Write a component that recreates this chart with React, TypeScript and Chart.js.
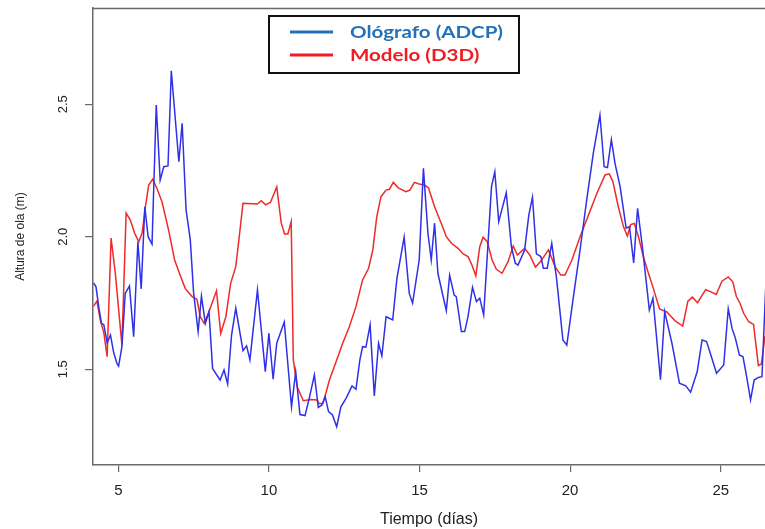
import React, { useEffect, useRef } from 'react';
import { Chart, registerables } from 'chart.js';

Chart.register(...registerables);

const xTickValues = [5, 10, 15, 20, 25];
const yTickValues = [1.5, 2.0, 2.5];
const seriesNames = ['Ológrafo (ADCP)', 'Modelo (D3D)'];
const xTitle = 'Tiempo (días)';
const yTitle = 'Altura de ola (m)';

const blueDays = [
  4.18, 4.26, 4.35, 4.44, 4.52, 4.63, 4.74, 4.85, 4.96, 5.01,
  5.12, 5.23, 5.37, 5.51, 5.65, 5.76, 5.88, 5.99, 6.12, 6.26,
  6.39, 6.51, 6.65, 6.76, 7.01, 7.12, 7.25, 7.39, 7.50, 7.65,
  7.76, 7.89, 8.01, 8.13, 8.38, 8.51, 8.63, 8.76, 8.90, 9.14,
  9.26, 9.37, 9.62, 9.88, 10.00, 10.14, 10.26, 10.51, 10.75, 10.89,
  11.03, 11.20, 11.34, 11.51, 11.64, 11.76, 11.87, 11.98, 12.11, 12.25,
  12.39, 12.56, 12.76, 12.89, 13.02, 13.11, 13.22, 13.36, 13.50, 13.64,
  13.75, 13.89, 14.11, 14.25, 14.49, 14.66, 14.77, 14.99, 15.13, 15.28,
  15.39, 15.50, 15.61, 15.89, 16.00, 16.15, 16.22, 16.39, 16.50, 16.61,
  16.76, 16.89, 17.00, 17.13, 17.39, 17.50, 17.63, 17.88, 18.05, 18.18,
  18.27, 18.49, 18.63, 18.75, 18.88, 19.03, 19.11, 19.24, 19.39, 19.55,
  19.76, 19.89, 20.11, 20.33, 20.55, 20.77, 20.99, 21.13, 21.24, 21.37,
  21.49, 21.66, 21.86, 21.97, 22.11, 22.24, 22.40, 22.52, 22.63, 22.75,
  23.00, 23.14, 23.38, 23.63, 23.84, 24.00, 24.22, 24.38, 24.53, 24.69,
  24.86, 25.10, 25.25, 25.38, 25.48, 25.62, 25.74, 25.86, 25.99, 26.11,
  26.25, 26.37, 26.49,
];
const blueHeights = [
  1.826, 1.811, 1.736, 1.674, 1.667, 1.599, 1.629, 1.561, 1.520, 1.512,
  1.585, 1.786, 1.814, 1.623, 1.981, 1.803, 2.113, 2.000, 1.972, 2.497,
  2.214, 2.264, 2.267, 2.626, 2.283, 2.428, 2.101, 1.988, 1.788, 1.642,
  1.776, 1.673, 1.717, 1.503, 1.459, 1.497, 1.444, 1.629, 1.730, 1.570,
  1.588, 1.535, 1.799, 1.491, 1.635, 1.462, 1.598, 1.678, 1.358, 1.491,
  1.329, 1.325, 1.391, 1.478, 1.356, 1.365, 1.396, 1.340, 1.327, 1.283,
  1.358, 1.390, 1.437, 1.424, 1.535, 1.585, 1.583, 1.667, 1.399, 1.598,
  1.550, 1.698, 1.686, 1.843, 1.998, 1.786, 1.749, 1.912, 2.258, 2.013,
  1.912, 2.051, 1.862, 1.721, 1.855, 1.780, 1.774, 1.642, 1.642, 1.698,
  1.809, 1.755, 1.768, 1.705, 2.189, 2.245, 2.057, 2.166, 1.962, 1.900,
  1.893, 1.950, 2.082, 2.149, 1.935, 1.925, 1.881, 1.881, 1.975, 1.843,
  1.610, 1.591, 1.774, 1.950, 2.138, 2.315, 2.459, 2.264, 2.261, 2.366,
  2.277, 2.189, 2.032, 2.038, 1.901, 2.107, 1.961, 1.837, 1.723, 1.768,
  1.460, 1.717, 1.598, 1.447, 1.437, 1.413, 1.491, 1.610, 1.604, 1.547,
  1.485, 1.516, 1.728, 1.652, 1.620, 1.554, 1.547, 1.472, 1.384, 1.459,
  1.469, 1.472, 1.800,
];

const redDays = [
  4.18, 4.29, 4.40, 4.52, 4.63, 4.76, 4.90, 5.12, 5.26, 5.40,
  5.54, 5.68, 5.79, 5.90, 6.01, 6.14, 6.28, 6.45, 6.67, 6.87,
  7.03, 7.22, 7.45, 7.61, 7.72, 7.85, 8.01, 8.26, 8.40, 8.57,
  8.73, 8.90, 9.01, 9.14, 9.61, 9.75, 9.89, 10.05, 10.26, 10.41,
  10.52, 10.63, 10.74, 10.81, 10.94, 11.14, 11.39, 11.60, 11.66, 11.79,
  11.89, 12.01, 12.23, 12.45, 12.67, 12.89, 13.11, 13.31, 13.45, 13.58,
  13.72, 13.89, 14.00, 14.13, 14.31, 14.55, 14.68, 14.83, 14.99, 15.16,
  15.30, 15.50, 15.72, 15.89, 16.06, 16.28, 16.45, 16.61, 16.74, 16.87,
  17.00, 17.11, 17.25, 17.41, 17.55, 17.74, 17.94, 18.11, 18.25, 18.49,
  18.66, 18.85, 19.03, 19.28, 19.50, 19.69, 19.83, 20.06, 20.33, 20.61,
  20.89, 21.16, 21.30, 21.42, 21.60, 21.77, 21.90, 22.01, 22.13, 22.27,
  22.43, 22.60, 22.76, 22.97, 23.21, 23.49, 23.74, 23.91, 24.06, 24.23,
  24.50, 24.68, 24.85, 25.04, 25.25, 25.40, 25.52, 25.64, 25.76, 25.93,
  26.09, 26.25, 26.35, 26.47, 26.54,
];
const redHeights = [
  1.738, 1.757, 1.686, 1.637, 1.547, 1.995, 1.863, 1.591, 2.089, 2.063,
  2.014, 1.981, 2.014, 2.113, 2.195, 2.217, 2.183, 2.132, 2.025, 1.912,
  1.862, 1.805, 1.774, 1.764, 1.698, 1.673, 1.717, 1.796, 1.635, 1.698,
  1.824, 1.887, 1.995, 2.126, 2.123, 2.136, 2.120, 2.129, 2.188, 2.051,
  2.010, 2.010, 2.057, 1.535, 1.434, 1.381, 1.386, 1.384, 1.371, 1.371,
  1.409, 1.459, 1.528, 1.598, 1.660, 1.736, 1.837, 1.881, 1.950, 2.075,
  2.151, 2.176, 2.179, 2.205, 2.183, 2.170, 2.176, 2.205, 2.199, 2.195,
  2.184, 2.113, 2.051, 2.000, 1.975, 1.956, 1.935, 1.925, 1.893, 1.852,
  1.962, 1.998, 1.981, 1.912, 1.877, 1.862, 1.906, 1.965, 1.931, 1.956,
  1.931, 1.885, 1.908, 1.950, 1.887, 1.855, 1.855, 1.912, 2.000, 2.082,
  2.164, 2.233, 2.237, 2.208, 2.113, 2.038, 2.003, 2.046, 2.050, 2.000,
  1.925, 1.862, 1.806, 1.727, 1.716, 1.682, 1.663, 1.757, 1.772, 1.751,
  1.800, 1.792, 1.782, 1.832, 1.848, 1.830, 1.774, 1.749, 1.711, 1.679,
  1.669, 1.514, 1.520, 1.625, 1.690,
];

const FRAME = '#6a6a6a';
const TEXT = '#222222';
const BLUE_LINE = 'rgb(48, 48, 232)';
const RED_LINE = 'rgb(238, 42, 42)';
const LEGEND_BLUE = '#2471b8';
const LEGEND_RED = '#ee1c24';
const AXIS_FONT = '"Liberation Sans", Arial, sans-serif';

const overlayPlugin = {
  id: 'overlay',
  afterDraw(chart: any) {
    const { ctx, chartArea: a, scales } = chart;
    ctx.save();
    // top frame line
    ctx.strokeStyle = FRAME;
    ctx.lineWidth = 1.5;
    ctx.beginPath();
    ctx.moveTo(a.left, a.top + 0.5);
    ctx.lineTo(a.right, a.top + 0.5);
    ctx.stroke();

    // rotated y tick labels
    ctx.fillStyle = TEXT;
    ctx.font = `13px ${AXIS_FONT}`;
    ctx.textAlign = 'center';
    ctx.textBaseline = 'middle';
    for (const t of scales.y.ticks) {
      const py = scales.y.getPixelForValue(t.value);
      ctx.save();
      ctx.translate(63, py);
      ctx.rotate(-Math.PI / 2);
      ctx.fillText(Number(t.value).toFixed(1), 0, 0);
      ctx.restore();
    }

    // legend box
    ctx.strokeStyle = '#111';
    ctx.lineWidth = 2;
    ctx.strokeRect(269, 16, 250, 57);
    ctx.lineWidth = 3;
    ctx.strokeStyle = LEGEND_BLUE;
    ctx.beginPath();
    ctx.moveTo(290, 32);
    ctx.lineTo(333, 32);
    ctx.stroke();
    ctx.strokeStyle = LEGEND_RED;
    ctx.beginPath();
    ctx.moveTo(290, 55);
    ctx.lineTo(333, 55);
    ctx.stroke();

    ctx.font = `bold 17px Lato, "Open Sans", sans-serif`;
    ctx.textAlign = 'left';
    ctx.textBaseline = 'middle';
    const w = ctx.measureText(seriesNames[0]).width;
    const sx = 153 / w;
    const rows = [
      { text: seriesNames[0], color: LEGEND_BLUE, y: 33 },
      { text: seriesNames[1], color: LEGEND_RED, y: 56 },
    ];
    for (const r of rows) {
      ctx.save();
      ctx.translate(350, r.y);
      ctx.scale(sx, 1);
      ctx.fillStyle = r.color;
      ctx.fillText(r.text, 0, 0);
      ctx.restore();
    }
    ctx.restore();
  },
};

export default function App() {
  const canvasRef = useRef<HTMLCanvasElement | null>(null);

  useEffect(() => {
    const canvas = canvasRef.current;
    if (!canvas) return;
    const chart = new Chart(canvas, {
      type: 'line',
      data: {
        datasets: [
          {
            label: seriesNames[0],
            data: blueDays.map((d, i) => ({ x: d, y: blueHeights[i] })),
            borderColor: BLUE_LINE,
            borderWidth: 1.5,
            pointRadius: 0,
            tension: 0,
            fill: false,
          },
          {
            label: seriesNames[1],
            data: redDays.map((d, i) => ({ x: d, y: redHeights[i] })),
            borderColor: RED_LINE,
            borderWidth: 1.5,
            pointRadius: 0,
            tension: 0,
            fill: false,
          },
        ],
      },
      options: {
        responsive: true,
        maintainAspectRatio: false,
        animation: false,
        devicePixelRatio: 1,
        layout: { padding: { top: 8, left: 0, right: 0, bottom: 0 } },
        plugins: {
          legend: { display: false },
          tooltip: { enabled: false },
        },
        scales: {
          x: {
            type: 'linear',
            min: 4.16,
            max: 26.47,
            afterBuildTicks: (s: any) => {
              s.ticks = xTickValues.map((v) => ({ value: v }));
            },
            afterFit: (s: any) => {
              s.height = 64;
            },
            grid: {
              drawOnChartArea: false,
              drawTicks: true,
              tickLength: 7,
              color: FRAME,
              lineWidth: 1.2,
            },
            border: { display: true, color: FRAME, width: 1.5 },
            ticks: {
              padding: 10,
              color: TEXT,
              maxRotation: 0,
              font: { family: AXIS_FONT, size: 15 },
              callback: (v: any) => String(v),
            },
            title: {
              display: true,
              text: xTitle,
              color: TEXT,
              font: { family: AXIS_FONT, size: 16 },
              padding: { top: 0, bottom: 0 },
            },
          },
          y: {
            type: 'linear',
            min: 1.1385,
            max: 2.863,
            afterBuildTicks: (s: any) => {
              s.ticks = yTickValues.map((v) => ({ value: v }));
            },
            afterFit: (s: any) => {
              s.width = 93;
            },
            grid: {
              drawOnChartArea: false,
              drawTicks: true,
              tickLength: 8,
              color: FRAME,
              lineWidth: 1.2,
            },
            border: { display: true, color: FRAME, width: 1.5 },
            ticks: { display: false },
            title: {
              display: true,
              text: yTitle,
              color: TEXT,
              font: { family: AXIS_FONT, size: 12 },
              padding: { top: 13, bottom: 0 },
            },
          },
        },
      },
      plugins: [overlayPlugin],
    } as any);
    return () => chart.destroy();
  }, []);

  return (
    <div style={{ position: 'fixed', left: 0, top: 0, width: 765, height: 529, background: '#fff' }}>
      <canvas ref={canvasRef} style={{ display: 'block' }} />
    </div>
  );
}
